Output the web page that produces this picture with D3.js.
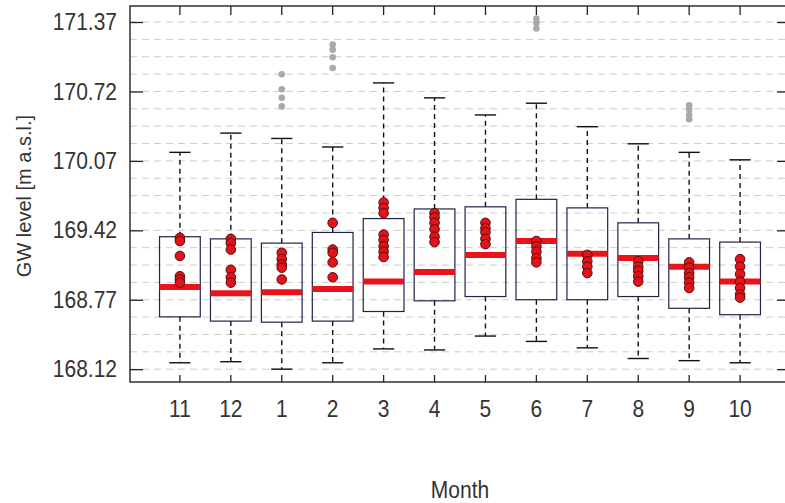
<!DOCTYPE html>
<html>
<head>
<meta charset="utf-8">
<script src="https://cdn.jsdelivr.net/npm/d3@7"></script>
<style>
  body { margin: 0; background: #fff; }
  text { font-family: "Liberation Sans", Arial, sans-serif; fill: #333; }
  text.tall { transform-box: fill-box; transform-origin: center; transform: scaleY(1.12); }
</style>
</head>
<body>
<div id="chart"></div>
<script>
// months in hydrological-year order
const months = ['11', '12', '1', '2', '3', '4', '5', '6', '7', '8', '9', '10'];

// box statistics per month (m a.s.l.)
const whiskLow  = [168.18, 168.19, 168.12, 168.18, 168.31, 168.30, 168.43, 168.38, 168.32, 168.22, 168.20, 168.18];
const q1        = [168.61, 168.57, 168.56, 168.57, 168.66, 168.76, 168.80, 168.77, 168.77, 168.80, 168.69, 168.63];
const medians   = [168.89, 168.83, 168.84, 168.87, 168.94, 169.03, 169.19, 169.32, 169.20, 169.16, 169.08, 168.94];
const q3        = [169.36, 169.34, 169.30, 169.40, 169.53, 169.62, 169.64, 169.71, 169.63, 169.49, 169.34, 169.31];
const whiskHigh = [170.15, 170.33, 170.28, 170.20, 170.80, 170.66, 170.50, 170.61, 170.39, 170.23, 170.15, 170.08];

// grey outliers above the upper whisker
const outliers = {
  '1': [170.88, 170.74, 170.66, 170.58],
  '2': [171.16, 171.11, 171.04, 170.94],
  '6': [171.40, 171.36, 171.31],
  '9': [170.59, 170.55, 170.50, 170.46]
};

// red points (observations of the highlighted year)
const highlight = {
  '11': [169.35, 169.32, 169.18, 168.99, 168.96, 168.93],
  '12': [169.34, 169.30, 169.24, 169.05, 168.98, 168.93],
  '1':  [169.21, 169.15, 169.10, 169.07, 168.96],
  '2':  [169.49, 169.24, 169.21, 169.12, 168.98],
  '3':  [169.68, 169.63, 169.58, 169.38, 169.33, 169.27, 169.22, 169.17],
  '4':  [169.58, 169.54, 169.49, 169.43, 169.36, 169.31],
  '5':  [169.49, 169.44, 169.40, 169.34, 169.29],
  '6':  [169.32, 169.27, 169.22, 169.16, 169.12],
  '7':  [169.19, 169.13, 169.08, 169.02],
  '8':  [169.13, 169.08, 169.04, 168.99, 168.94],
  '9':  [169.12, 169.07, 169.02, 168.98, 168.93, 168.88],
  '10': [169.15, 169.08, 169.01, 168.94, 168.88, 168.82, 168.79]
};

const yTicks = [168.12, 168.77, 169.42, 170.07, 170.72, 171.37];

const width = 785, height = 503;
const margin = {left: 130, top: 6, right: -5, bottom: 121};

const svg = d3.select('#chart').append('svg')
  .attr('width', width)
  .attr('height', height);

const x = d3.scaleBand()
  .domain(months)
  .range([margin.left, width - margin.right])
  .paddingInner(0.2)
  .paddingOuter(0.58);

const y = d3.scaleLinear()
  .domain([168.0, 171.52])
  .range([height - margin.bottom, margin.top]);

const x0 = margin.left, x1 = width - margin.right;
const y0 = height - margin.bottom, y1 = margin.top;

// dashed grid, 4 steps between each labelled tick
const step = (yTicks[1] - yTicks[0]) / 4;
const gridVals = d3.range(0, (yTicks.length - 1) * 4 + 1).map(i => yTicks[0] + i * step);

svg.append('g')
  .selectAll('line')
  .data(gridVals)
  .join('line')
  .attr('x1', x0).attr('x2', x1)
  .attr('y1', d => y(d)).attr('y2', d => y(d))
  .attr('stroke', '#cdcdcd')
  .attr('stroke-width', 1)
  .attr('stroke-dasharray', '7,5');

// one group per month
const boxes = svg.append('g')
  .selectAll('g')
  .data(months.map((m, i) => ({m, i})))
  .join('g');

const cx = d => x(d.m) + x.bandwidth() / 2;
const capW = x.bandwidth() * 0.26;

// whiskers
boxes.append('line')
  .attr('x1', cx).attr('x2', cx)
  .attr('y1', d => y(q3[d.i])).attr('y2', d => y(whiskHigh[d.i]))
  .attr('stroke', '#111').attr('stroke-width', 1.4)
  .attr('stroke-dasharray', '5,4');
boxes.append('line')
  .attr('x1', cx).attr('x2', cx)
  .attr('y1', d => y(q1[d.i])).attr('y2', d => y(whiskLow[d.i]))
  .attr('stroke', '#111').attr('stroke-width', 1.4)
  .attr('stroke-dasharray', '5,4');

// caps
boxes.append('line')
  .attr('x1', d => cx(d) - capW).attr('x2', d => cx(d) + capW)
  .attr('y1', d => y(whiskHigh[d.i])).attr('y2', d => y(whiskHigh[d.i]))
  .attr('stroke', '#111').attr('stroke-width', 1.4);
boxes.append('line')
  .attr('x1', d => cx(d) - capW).attr('x2', d => cx(d) + capW)
  .attr('y1', d => y(whiskLow[d.i])).attr('y2', d => y(whiskLow[d.i]))
  .attr('stroke', '#111').attr('stroke-width', 1.4);

// boxes
boxes.append('rect')
  .attr('x', d => x(d.m))
  .attr('width', x.bandwidth())
  .attr('y', d => y(q3[d.i]))
  .attr('height', d => y(q1[d.i]) - y(q3[d.i]))
  .attr('fill', 'none')
  .attr('stroke', '#22224a')
  .attr('stroke-width', 1.2);

// medians
boxes.append('line')
  .attr('x1', d => x(d.m)).attr('x2', d => x(d.m) + x.bandwidth())
  .attr('y1', d => y(medians[d.i])).attr('y2', d => y(medians[d.i]))
  .attr('stroke', '#e8141a')
  .attr('stroke-width', 6);

// grey outliers
boxes.selectAll('circle.out')
  .data(d => (outliers[d.m] || []).map(v => ({m: d.m, v})))
  .join('circle')
  .attr('class', 'out')
  .attr('cx', cx)
  .attr('cy', d => y(d.v))
  .attr('r', 3.3)
  .attr('fill', '#a9a9a9');

// red points
boxes.selectAll('circle.hl')
  .data(d => highlight[d.m].map(v => ({m: d.m, v})))
  .join('circle')
  .attr('class', 'hl')
  .attr('cx', cx)
  .attr('cy', d => y(d.v))
  .attr('r', 4.8)
  .attr('fill', '#e0141a')
  .attr('stroke', '#5a0a0a')
  .attr('stroke-width', 1);

// frame
svg.append('rect')
  .attr('x', x0).attr('y', y1)
  .attr('width', x1 - x0).attr('height', y0 - y1)
  .attr('fill', 'none')
  .attr('stroke', '#222')
  .attr('stroke-width', 1.4);

// axes with inward ticks
svg.append('g')
  .attr('transform', `translate(${x0},0)`)
  .call(d3.axisLeft(y).tickValues(yTicks).tickFormat(d3.format('.2f')).tickSize(-13).tickPadding(13))
  .call(g => g.select('.domain').remove())
  .call(g => g.selectAll('line').attr('stroke', '#222').attr('stroke-width', 1.3))
  .call(g => g.selectAll('text').attr('class', 'tall').style('font-size', '21px').attr('fill', '#333'));

svg.append('g')
  .attr('transform', `translate(${x1},0)`)
  .call(d3.axisRight(y).tickValues(yTicks).tickFormat('').tickSize(-13))
  .call(g => g.select('.domain').remove())
  .call(g => g.selectAll('line').attr('stroke', '#222').attr('stroke-width', 1.3));

svg.append('g')
  .attr('transform', `translate(0,${y0})`)
  .call(d3.axisBottom(x).tickSize(-7).tickPadding(19))
  .call(g => g.select('.domain').remove())
  .call(g => g.selectAll('line').attr('stroke', '#222').attr('stroke-width', 1.3))
  .call(g => g.selectAll('text').attr('class', 'tall').style('font-size', '21px').attr('fill', '#333'));

svg.append('g')
  .attr('transform', `translate(0,${y1})`)
  .call(d3.axisTop(x).tickSize(-9).tickFormat(''))
  .call(g => g.select('.domain').remove())
  .call(g => g.selectAll('line').attr('stroke', '#222').attr('stroke-width', 1.3));

// axis titles
svg.append('text')
  .attr('class', 'tall')
  .attr('x', (x0 + x1) / 2)
  .attr('y', 497)
  .attr('text-anchor', 'middle')
  .style('font-size', '21px')
  .text('Month');

svg.append('text')
  .attr('transform', `translate(31,196) rotate(-90)`)
  .attr('text-anchor', 'middle')
  .style('font-size', '20px')
  .text('GW level [m a.s.l.]');
</script>
</body>
</html>
